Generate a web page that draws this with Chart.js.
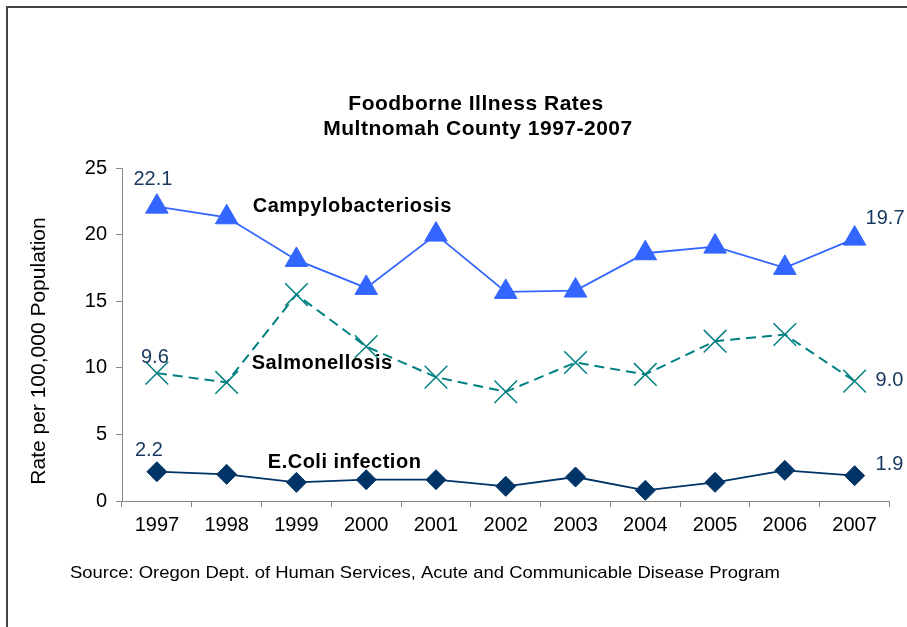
<!DOCTYPE html>
<html>
<head>
<title>Foodborne Illness Rates</title>
<script src="https://cdn.jsdelivr.net/npm/chart.js"></script>
<style>
  html, body { margin: 0; padding: 0; background: #fff; }
  #wrap { width: 907px; height: 627px; }
</style>
</head>
<body>
  <div id="wrap"><canvas id="illnessChart" width="907" height="627"></canvas></div>

  <script>
    // Data
    const years = ["1997", "1998", "1999", "2000", "2001", "2002", "2003", "2004", "2005", "2006", "2007"];
    const campylo = [22.1, 21.3, 18.1, 16.0, 20.0, 15.7, 15.8, 18.6, 19.1, 17.5, 19.7];
    const salmonella = [9.6, 8.9, 15.5, 11.6, 9.3, 8.2, 10.4, 9.5, 12.0, 12.5, 9.0];
    const ecoli = [2.2, 2.0, 1.4, 1.6, 1.6, 1.1, 1.8, 0.8, 1.4, 2.3, 1.9];
    const yTicks = [0, 5, 10, 15, 20, 25];

    const FONT = "'Liberation Sans', Arial, sans-serif";
    const labelColor = "#17375E";

    // title, axis title, series names, endpoint labels, outer frame and source line
    const annotations = {
      id: "annotations",
      afterDraw(chart) {
        const c = chart.ctx;
        const x = chart.scales.x, y = chart.scales.y;
        c.save();

        // frame
        c.strokeStyle = "#444";
        c.lineWidth = 2;
        c.beginPath();
        c.moveTo(7, 640);
        c.lineTo(7, 7);
        c.lineTo(920, 7);
        c.stroke();

        // title
        c.fillStyle = "#000";
        c.font = "bold 21px " + FONT;
        c.letterSpacing = "0.5px";
        c.textAlign = "center";
        c.textBaseline = "middle";
        c.fillText("Foodborne Illness Rates", 476, 104);
        c.fillText("Multnomah County 1997-2007", 478, 129);

        // series names
        c.font = "bold 20px " + FONT;
        c.fillText("Campylobacteriosis", x.getPixelForValue(2.8), y.getPixelForValue(22.1));
        c.fillText("Salmonellosis", x.getPixelForValue(2.37), y.getPixelForValue(10.3));
        c.fillText("E.Coli infection", x.getPixelForValue(2.69), y.getPixelForValue(2.9));
        c.letterSpacing = "0px";

        // y axis title, sits a bit below the middle of the axis in the original
        c.save();
        c.font = "21px " + FONT;
        c.translate(39, 351);
        c.rotate(-Math.PI / 2);
        c.fillText("Rate per 100,000 Population", 0, 0);
        c.restore();

        // endpoint values
        c.fillStyle = labelColor;
        c.font = "20px " + FONT;
        const last = years.length - 1;
        const first = [[campylo, -4, -27], [salmonella, -2, -16], [ecoli, -8, -21]];
        first.forEach(([d, dx, dy]) => {
          c.textAlign = "center";
          c.fillText(d[0].toFixed(1), x.getPixelForValue(0) + dx, y.getPixelForValue(d[0]) + dy);
        });
        const end = [[campylo, 11, -20], [salmonella, 21, -1], [ecoli, 21, -11]];
        end.forEach(([d, dx, dy]) => {
          c.textAlign = "left";
          c.fillText(d[last].toFixed(1), x.getPixelForValue(last) + dx, y.getPixelForValue(d[last]) + dy);
        });

        // source, stretched to the width it has in the original
        const src = "Source: Oregon Dept. of Human Services, Acute and Communicable Disease Program";
        c.fillStyle = "#000";
        c.font = "16.5px " + FONT;
        c.textAlign = "left";
        const w = c.measureText(src).width;
        c.translate(70, 573);
        c.scale(710 / w, 1);
        c.fillText(src, 0, 0);
        c.restore();
      }
    };

    const ctx = document.getElementById("illnessChart").getContext("2d");

    new Chart(ctx, {
      type: "line",
      data: {
        labels: years,
        datasets: [
          {
            label: "Campylobacteriosis",
            data: campylo,
            borderColor: "#3366FF",
            backgroundColor: "#3366FF",
            borderWidth: 1.8,
            pointStyle: "triangle",
            pointRadius: 13,
            pointBorderWidth: 1,
            tension: 0
          },
          {
            label: "Salmonellosis",
            data: salmonella,
            borderColor: "#008080",
            backgroundColor: "#008080",
            borderWidth: 2,
            borderDash: [10, 6],
            pointStyle: "crossRot",
            pointRadius: 16,
            pointBorderWidth: 1.5,
            tension: 0
          },
          {
            label: "E.Coli infection",
            data: ecoli,
            borderColor: "#003366",
            backgroundColor: "#003366",
            borderWidth: 1.8,
            pointStyle: "rectRot",
            pointRadius: 10,
            pointBorderWidth: 1,
            tension: 0
          }
        ]
      },
      options: {
        responsive: false,
        animation: false,
        layout: { padding: { left: 27, top: 168, right: 16, bottom: 0 } },
        plugins: {
          legend: { display: false },
          tooltip: { enabled: false },
          title: { display: false }
        },
        scales: {
          x: {
            offset: true,
            grid: { offset: true, drawOnChartArea: false, color: "#868686", tickLength: 6 },
            border: { color: "#868686", width: 1 },
            ticks: { color: "#000", font: { family: FONT, size: 20 }, padding: 6, maxRotation: 0 },
            afterFit: (s) => { s.height = 126; }
          },
          y: {
            min: 0,
            max: 25,
            afterBuildTicks: (s) => { s.ticks = yTicks.map(v => ({ value: v })); },
            grid: { drawOnChartArea: false, color: "#868686", tickLength: 6 },
            border: { color: "#868686", width: 1 },
            ticks: { color: "#000", font: { family: FONT, size: 20 }, padding: 9 },
            afterFit: (s) => { s.width = 95; }
          }
        }
      },
      plugins: [annotations]
    });
  </script>
</body>
</html>
